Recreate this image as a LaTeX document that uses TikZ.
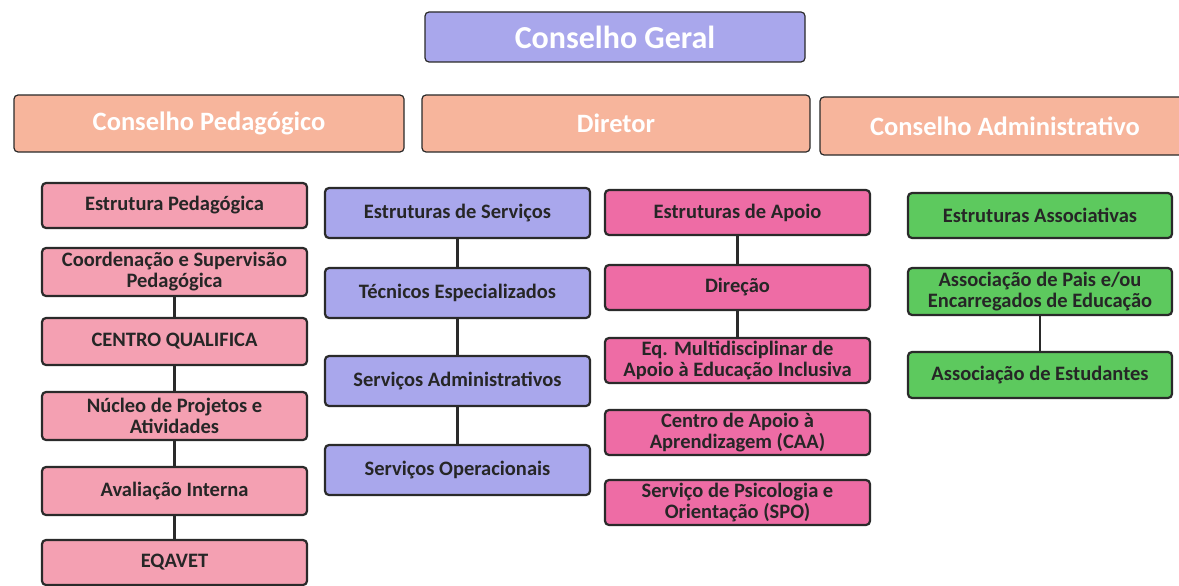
\documentclass[tikz,border=0pt]{standalone}
\usepackage{fontspec}
\setmainfont{Carlito}
\definecolor{lav}{HTML}{A9A7EC}
\definecolor{peach}{HTML}{F7B59C}
\definecolor{pinkA}{HTML}{F4A0B2}
\definecolor{pinkB}{HTML}{EE6CA5}
\definecolor{greenA}{HTML}{5DC95E}
\definecolor{edge}{HTML}{2A2A2A}
\begin{document}
\begin{tikzpicture}[x=1pt,y=-1pt,
  hdr/.style={draw=edge,line width=1.2pt,rounded corners=4pt,font=\bfseries\fontsize{26.5}{28}\selectfont,text=white,inner sep=0pt,minimum height=57pt},
  bx/.style={draw=edge,line width=2.2pt,rounded corners=4pt,font=\bfseries\fontsize{20.5}{21}\selectfont,text=black!85,align=center,inner sep=0pt,minimum width=265pt},
  conn/.style={draw=edge,line width=2.5pt}]
\useasboundingbox (0,0) rectangle (1179,586);
% headers
\node[hdr,fill=lav,minimum width=380pt,minimum height=50pt,font=\bfseries\fontsize{32}{34}\selectfont] (cg) at (615,37) {Conselho Geral};
\node[hdr,fill=peach,minimum width=390pt] (cp) at (209,123.5) {Conselho Pedagógico};
\node[hdr,fill=peach,minimum width=388pt] (dir) at (616,123.5) {Diretor};
\node[hdr,fill=peach,minimum width=370pt,minimum height=58pt] (ca) at (1005,126) {Conselho Administrativo};
% column 1
\node[bx,fill=pinkA,minimum height=45pt] (p1) at (174.5,205.5) {Estrutura Pedagógica};
\node[bx,fill=pinkA,minimum height=48pt] (p2) at (174.5,272) {Coordenação e Supervisão\\Pedagógica};
\node[bx,fill=pinkA,minimum height=47pt] (p3) at (174.5,341.5) {CENTRO QUALIFICA};
\node[bx,fill=pinkA,minimum height=48pt] (p4) at (174.5,416) {Núcleo de Projetos e\\Atividades};
\node[bx,fill=pinkA,minimum height=48pt] (p5) at (174.5,491) {Avaliação Interna};
\node[bx,fill=pinkA,minimum height=45pt] (p6) at (174.5,562.5) {EQAVET};
\draw[conn] (p2) -- (p3);
\draw[conn] (p3) -- (p4);
\draw[conn] (p4) -- (p5);
\draw[conn] (p5) -- (p6);
% column 2
\node[bx,fill=lav,minimum height=50pt] (s1) at (457.5,213) {Estruturas de Serviços};
\node[bx,fill=lav,minimum height=50pt] (s2) at (457.5,293) {Técnicos Especializados};
\node[bx,fill=lav,minimum height=50pt] (s3) at (457.5,381) {Serviços Administrativos};
\node[bx,fill=lav,minimum height=50pt] (s4) at (457.5,470) {Serviços Operacionais};
\draw[conn] (s1) -- (s2);
\draw[conn] (s2) -- (s3);
\draw[conn] (s3) -- (s4);
% column 3
\node[bx,fill=pinkB,minimum height=45pt] (a1) at (737.5,212.5) {Estruturas de Apoio};
\node[bx,fill=pinkB,minimum height=45pt] (a2) at (737.5,287.5) {Direção};
\node[bx,fill=pinkB,minimum height=45pt] (a3) at (737.5,360.5) {Eq. Multidisciplinar de\\Apoio à Educação Inclusiva};
\node[bx,fill=pinkB,minimum height=45pt] (a4) at (737.5,432.5) {Centro de Apoio à\\Aprendizagem (CAA)};
\node[bx,fill=pinkB,minimum height=45pt] (a5) at (737.5,502.5) {Serviço de Psicologia e\\Orientação (SPO)};
\draw[conn] (a1) -- (a2);
\draw[conn] (a2) -- (a3);
% column 4
\node[bx,fill=greenA,minimum height=45pt,minimum width=264pt] (g1) at (1040,215.5) {Estruturas Associativas};
\node[bx,fill=greenA,minimum height=47pt,minimum width=264pt] (g2) at (1040,291.5) {Associação de Pais e/ou\\Encarregados de Educação};
\node[bx,fill=greenA,minimum height=46pt,minimum width=264pt] (g3) at (1040,375) {Associação de Estudantes};
\draw[conn] (g2) -- (g3);
\end{tikzpicture}
\end{document}
